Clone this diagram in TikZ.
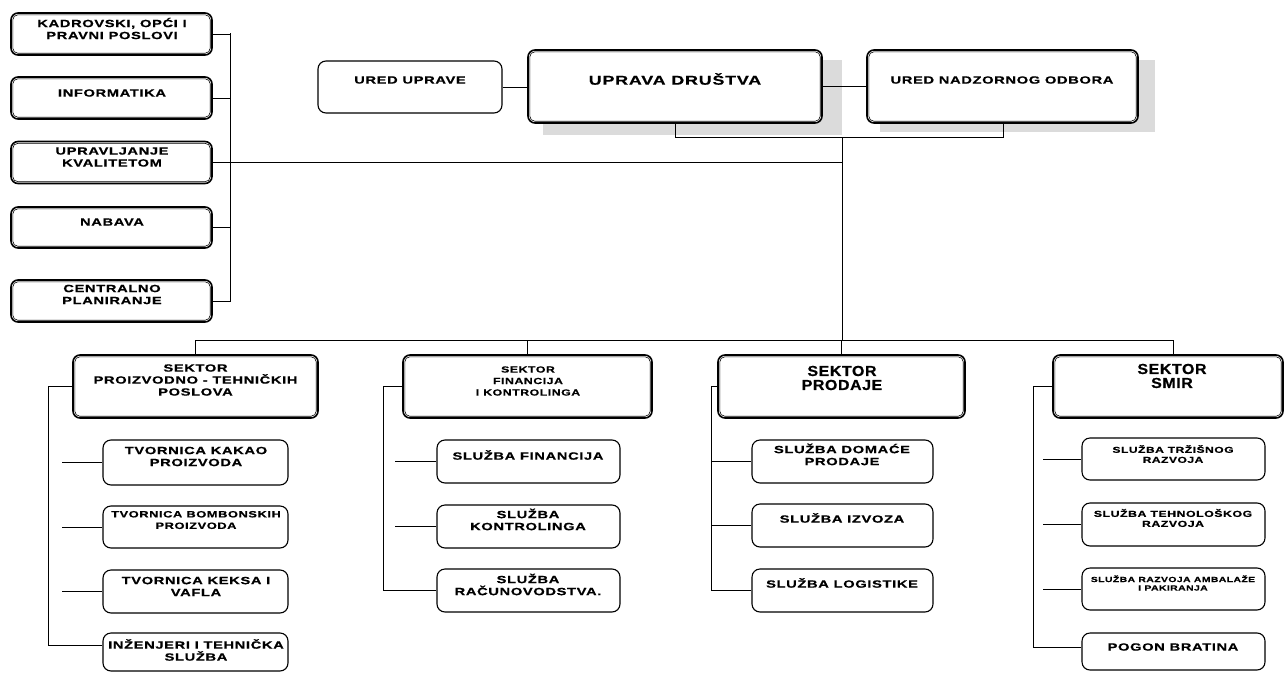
\documentclass[tikz,border=0pt]{standalone}
\usepackage{fontspec}
\setmainfont{Liberation Sans}[FakeStretch=1.4,LetterSpace=6,FakeBold=0.6]
\newfontfamily\titlefont{Liberation Sans}[FakeStretch=1.1,LetterSpace=4,FakeBold=0.6]
\newcommand\dblbox[5]{%
  \node[dbl, minimum width=#4, minimum height=#5] (#1) at (#2,#3) {};
  \draw[dblin] ([shift={(2.6,2.6)}]#1.north west) rectangle ([shift={(-2.6,-2.6)}]#1.south east);}
\newcommand\sglbox[5]{%
  \node[sbox, minimum width=#4, minimum height=#5] (#1) at (#2,#3) {};}
\begin{document}
\begin{tikzpicture}[x=1pt,y=-1pt,
  conn/.style={line width=0.8pt},
  dbl/.style={draw, fill=white, line width=1.6pt, rounded corners=7pt, rectangle, inner sep=0pt},
  dblin/.style={line width=0.6pt, rounded corners=5pt},
  sbox/.style={draw, fill=white, line width=1.1pt, rounded corners=8pt, rectangle, inner sep=0pt},
  txt/.style={align=center, inner sep=0pt, font=\bfseries\fontsize{10.5}{12}\selectfont},
  txtm/.style={align=center, inner sep=0pt, font=\bfseries\fontsize{9.2}{11.5}\selectfont},
  txts/.style={align=center, inner sep=0pt, font=\bfseries\fontsize{8.6}{10}\selectfont},
  txtxs/.style={align=center, inner sep=0pt, font=\bfseries\fontsize{7.4}{8.5}\selectfont},
  txtbig/.style={align=center, inner sep=0pt, font=\bfseries\fontsize{12.8}{14}\selectfont},
  txttitle/.style={align=center, inner sep=0pt, font=\titlefont\bfseries\fontsize{14.5}{14}\selectfont},
  shadow/.style={fill=gray!28}
]
\useasboundingbox (0,0) rectangle (1285,672);

% shadows
\fill[shadow] (543,60) rectangle (842,135);
\fill[shadow] (880,60) rectangle (1155,132);

% coordinates
\coordinate (lv1) at (230,33);
\coordinate (lv2) at (230,302);
\coordinate (bl) at (675,137);
\coordinate (br) at (1003,137);
\coordinate (tr) at (842,137);
\coordinate (bus) at (842,340);
\coordinate (d4) at (1173,340);

% left column
\dblbox{kad}{111.5}{34}{201}{42}
\dblbox{inf}{111.5}{98}{201}{42}
\dblbox{upk}{111.5}{162.5}{201}{42}
\dblbox{nab}{111.5}{227.5}{201}{41}
\dblbox{cen}{111.5}{301}{201}{42}
\node[txt] (tkad) at (112,28.5) {KADROVSKI, OPĆI I\\PRAVNI POSLOVI};
\node[txt] (tinf) at (112,93) {INFORMATIKA};
\node[txt] (tupk) at (112,157) {UPRAVLJANJE\\KVALITETOM};
\node[txt] (tnab) at (112,222) {NABAVA};
\node[txt] (tcen) at (112,294.5) {CENTRALNO\\PLANIRANJE};

% top
\sglbox{urup}{410}{87}{184}{52}
\dblbox{uprd}{675}{86.5}{294}{73}
\dblbox{nadz}{1002.5}{86.5}{271}{73}
\node[txt] (turup) at (410,80) {URED UPRAVE};
\node[txtbig] (tuprd) at (675,79) {UPRAVA DRUŠTVA};
\node[txt] (tnadz) at (1002,80) {URED NADZORNOG ODBORA};

% top connectors
\draw[conn] (urup.east) -- (urup.east -| uprd.west);
\draw[conn] (uprd.east) -- (nadz.west);
\draw[conn] (bl |- uprd.south) -- (bl) -- (br) -- (br |- nadz.south);
\draw[conn] (tr) -- (bus);
\draw[conn] (upk.east) -- (upk.east -| tr);
\draw[conn] (lv1) -- (lv2);
\draw[conn] (kad.east) -- (kad.east -| lv1);
\draw[conn] (inf.east) -- (inf.east -| lv1);
\draw[conn] (nab.east) -- (nab.east -| lv1);
\draw[conn] (cen.east) -- (cen.east -| lv1);

% sectors
\dblbox{s1}{195.5}{386.5}{245}{63}
\dblbox{s2}{527.5}{386.5}{249}{63}
\dblbox{s3}{841.5}{386.5}{247}{63}
\dblbox{s4}{1168}{386.5}{230}{63}
\node[txt] (ts1) at (195.5,380) {SEKTOR\\PROIZVODNO - TEHNIČKIH\\POSLOVA};
\node[txtm, font=\bfseries\fontsize{8.8}{11.5}\selectfont] (ts2) at (528,381) {SEKTOR\\FINANCIJA\\I KONTROLINGA};
\node[txttitle] (ts3) at (842,378) {SEKTOR\\PRODAJE};
\node[txttitle] (ts4) at (1172,376) {SEKTOR\\SMIR};

% bus
\draw[conn] (s1.north |- bus) -- (d4);
\draw[conn] (s1.north |- bus) -- (s1.north);
\draw[conn] (s2.north |- bus) -- (s2.north);
\draw[conn] (s3.north |- bus) -- (s3.north);
\draw[conn] (d4) -- (d4 |- s4.north);

% sector 1 subs
\sglbox{a1}{195.5}{462.5}{185}{45}
\sglbox{a2}{195.5}{527}{185}{42}
\sglbox{a3}{195.5}{591.5}{185}{43}
\sglbox{a4}{195.5}{652}{185}{38}
\node[txt] (ta1) at (196,456.5) {TVORNICA KAKAO\\PROIZVODA};
\node[txtm] (ta2) at (196,520) {TVORNICA BOMBONSKIH\\PROIZVODA};
\node[txt] (ta3) at (196,586.5) {TVORNICA KEKSA I\\VAFLA};
\node[txt] (ta4) at (196,650) {INŽENJERI I TEHNIČKA\\SLUŽBA};
\coordinate (a1s) at (62,0);
\coordinate (c1e) at (48,645);
\draw[conn] (s1.west) -| (c1e) -- (c1e -| a4.west);
\draw[conn] (a1.west -| a1s) -- (a1.west);
\draw[conn] (a2.west -| a1s) -- (a2.west);
\draw[conn] (a3.west -| a1s) -- (a3.west);

% sector 2 subs
\sglbox{b1}{528.5}{461.5}{183}{43}
\sglbox{b2}{528.5}{526.5}{183}{43}
\sglbox{b3}{528.5}{590.5}{183}{43}
\node[txt] (tb1) at (528,455) {SLUŽBA FINANCIJA};
\node[txt] (tb2) at (528,519.5) {SLUŽBA\\KONTROLINGA};
\node[txt] (tb3) at (528,584.5) {SLUŽBA\\RAČUNOVODSTVA.};
\coordinate (b1s) at (395,0);
\coordinate (c2e) at (383,0);
\draw[conn] (s2.west) -| (c2e |- b3.west) -- (b3.west);
\draw[conn] (b1.west -| b1s) -- (b1.west);
\draw[conn] (b2.west -| b1s) -- (b2.west);

% sector 3 subs
\sglbox{c1}{842.5}{461.5}{181}{43}
\sglbox{c2}{842.5}{525.5}{181}{43}
\sglbox{c3}{842.5}{590.5}{181}{43}
\node[txt] (tc1) at (842,454.5) {SLUŽBA DOMAĆE\\PRODAJE};
\node[txt] (tc2) at (842,518) {SLUŽBA IZVOZA};
\node[txt] (tc3) at (842,583) {SLUŽBA LOGISTIKE};
\coordinate (c3e) at (711,0);
\draw[conn] (s3.west) -| (c3e |- c3.west) -- (c3.west);
\draw[conn] (c1.west -| c3e) -- (c1.west);
\draw[conn] (c2.west -| c3e) -- (c2.west);

% sector 4 subs
\sglbox{e1}{1173.5}{459}{183}{42}
\sglbox{e2}{1173.5}{524.5}{183}{43}
\sglbox{e3}{1173.5}{589}{183}{42}
\sglbox{e4}{1173.5}{651.5}{183}{37}
\node[txts] (te1) at (1173,454) {SLUŽBA TRŽIŠNOG\\RAZVOJA};
\node[txts, font=\bfseries\fontsize{8.8}{10}\selectfont] (te2) at (1173,518) {SLUŽBA TEHNOLOŠKOG\\RAZVOJA};
\node[txtxs] (te3) at (1173,583) {SLUŽBA RAZVOJA AMBALAŽE\\I PAKIRANJA};
\node[txt] (te4) at (1173,647) {POGON BRATINA};
\coordinate (e1s) at (1043,0);
\coordinate (c4e) at (1033,647);
\draw[conn] (s4.west) -| (c4e) -- (c4e -| e4.west);
\draw[conn] (e1.west -| e1s) -- (e1.west);
\draw[conn] (e2.west -| e1s) -- (e2.west);
\draw[conn] (e3.west -| e1s) -- (e3.west);
\end{tikzpicture}
\end{document}
